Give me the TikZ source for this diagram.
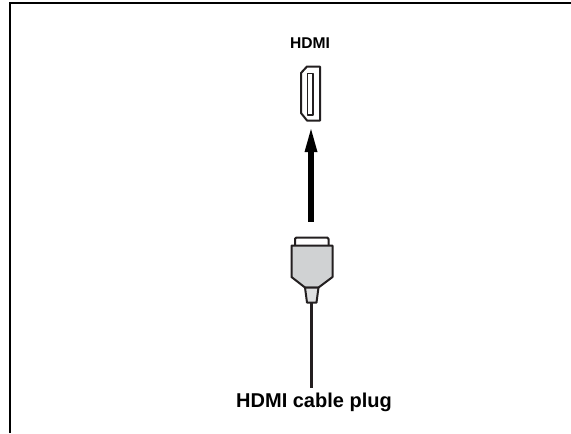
\documentclass[tikz,border=0pt]{standalone}
\usepackage{fontspec}
\setmainfont{Liberation Sans}
\definecolor{plug}{RGB}{208,210,211}
\definecolor{ink}{RGB}{35,31,32}
\tikzset{x=0.75pt,y=-0.75pt,
 frameln/.style={line width=1.5pt,black},
 outl/.style={draw=ink,line width=1.5pt,line join=round},
 thin outl/.style={draw=ink,line width=0.8pt,line join=round},
 lbl/.style={font=\bfseries,text=black,inner sep=0pt,anchor=base}}
\begin{document}
\begin{tikzpicture}
\useasboundingbox (0,0) rectangle (571,433);
\fill[white] (0,0) rectangle (571,433);
\coordinate (fa) at (10,433);
\coordinate (fb) at (10,3);
\coordinate (fc) at (571,3);
\draw[frameln] (fa) -- (fb) -- (fc);
\node[lbl,font=\bfseries\fontsize{11.7pt}{13pt}\selectfont] (title) at (310,48) {HDMI};
% socket
\draw[outl] (320,66.5) -- (307,66.5) -- (301,73) -- (301,113) -- (307,120.5) -- (320,120.5) -- cycle;
\draw[thin outl] (307.5,73.5) rectangle (313,115);
% arrow
\coordinate (atip) at (311,129);
\coordinate (atail) at (311,222);
\fill[black] (atip) -- (317.5,152) -- (304.5,152) -- cycle;
\draw[black,line width=3.8pt] (311,150) -- (atail);
% plug
\draw[outl,rounded corners=1pt] (295,246) -- (295,237.5) -- (328.5,237.5) -- (328.5,246);
\draw[outl,fill=plug] (291.5,245.5) -- (332.5,245.5) -- (332.5,277) -- (318.5,287.5) -- (305,287.5) -- (291.5,277) -- cycle;
\draw[outl,fill=plug!70!white] (305,287.5) -- (318.5,287.5) -- (316.5,302.5) -- (307,302.5) -- cycle;
\draw[ink,line width=2.3pt] (311.8,303) -- (311.8,388);
\node[lbl,font=\bfseries\fontsize{15pt}{17pt}\selectfont] (cap) at (314,407) {HDMI cable plug};
\end{tikzpicture}
\end{document}
